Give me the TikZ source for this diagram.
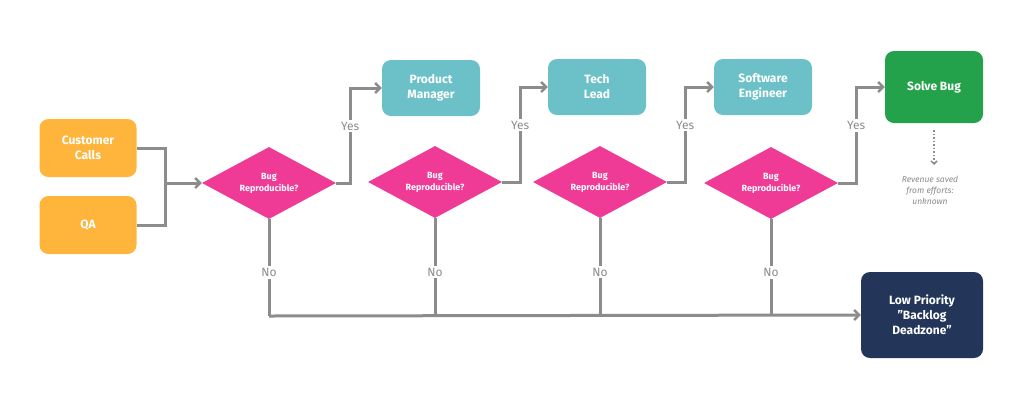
\documentclass[tikz,border=0pt]{standalone}
\usepackage{fontspec}
\setmainfont{Fira Sans}
\usetikzlibrary{shapes.geometric, arrows.meta}
\definecolor{orng}{HTML}{FFB43C}
\definecolor{teal}{HTML}{6BC1C7}
\definecolor{pink}{HTML}{EF3A96}
\definecolor{grn}{HTML}{23A24B}
\definecolor{navy}{HTML}{233659}
\definecolor{lgray}{HTML}{8C8C8C}
\begin{document}
\begin{tikzpicture}[x=1pt, y=-1pt,
  box/.style={rounded corners=9pt, text=white, align=center, font=\fontsize{12}{15}\selectfont\bfseries, inner sep=0pt},
  dec/.style={diamond, fill=pink, text=white, align=center, font=\fontsize{9}{12}\selectfont\bfseries, minimum width=134pt, minimum height=72pt, aspect=1.86, inner sep=0pt},
  line/.style={draw=lgray, line width=3pt},
  arr/.style={line, -{Straight Barb[length=5pt, width=10pt, line width=2.5pt]}},
  lab/.style={fill=white, text=lgray, font=\fontsize{12}{14}\selectfont, inner sep=2pt}]
\useasboundingbox (0,0) rectangle (1024,400);
\fill[white] (0,0) rectangle (1024,400);
% boxes
\node[box, fill=orng, minimum width=97pt, minimum height=58pt] (cc) at (88,148) {Customer\\Calls};
\node[box, fill=orng, minimum width=97pt, minimum height=58pt] (qa) at (88,225) {QA};
\node[box, fill=teal, minimum width=98pt, minimum height=56pt] (pm) at (431,88) {Product\\Manager};
\node[box, fill=teal, minimum width=98pt, minimum height=56pt] (tl) at (597,87) {Tech\\Lead};
\node[box, fill=teal, minimum width=98pt, minimum height=56pt] (se) at (763,87) {Software\\Engineer};
\node[box, fill=grn, minimum width=98pt, minimum height=72pt] (sb) at (934,87) {Solve Bug};
\node[box, fill=navy, minimum width=122pt, minimum height=86pt] (lp) at (922,315) {Low Priority\\"Backlog\\Deadzone"};
% decisions
\node[dec] (d1) at (269,183) {Bug\\Reproducible?};
\node[dec] (d2) at (435,182) {Bug\\Reproducible?};
\node[dec] (d3) at (600,182) {Bug\\Reproducible?};
\node[dec] (d4) at (771,183) {Bug\\Reproducible?};
% helper coordinates
\coordinate (j) at (165,183);
\coordinate (b) at (269,316);
% inputs
\draw[line] (cc.east) -| (j) |- (qa.east);
\draw[arr] (j) -- (d1.west);
% yes branches
\draw[arr] (d1.east) -- ++(14,0) |- (pm.west) node[lab, pos=0.3] {Yes};
\draw[arr] (d2.east) -- ++(18,0) |- (tl.west) node[lab, pos=0.3] {Yes};
\draw[arr] (d3.east) -- ++(18,0) |- (se.west) node[lab, pos=0.3] {Yes};
\draw[arr] (d4.east) -- ++(18,0) |- (sb.west) node[lab, pos=0.3] {Yes};
% no branches
\draw[line] (d1.south) -- node[lab, pos=0.55] {No} (b);
\draw[line] (d2.south) -- node[lab, pos=0.55] {No} (d2.south |- b);
\draw[line] (d3.south) -- node[lab, pos=0.55] {No} (d3.south |- b);
\draw[line] (d4.south) -- node[lab, pos=0.55] {No} (d4.south |- b);
\draw[arr] (b) -- (lp.west);
% revenue note
\coordinate (rv) at (934,165);
\draw[draw=lgray, line width=1.5pt, dotted, -{Straight Barb[length=3pt, width=6pt]}] (sb.south) ++(0,7) -- (rv);
\node[text=lgray, align=center, font=\fontsize{8.5}{11}\selectfont\itshape] (note) at (930,190) {Revenue saved\\from efforts:\\unknown};
\end{tikzpicture}
\end{document}
